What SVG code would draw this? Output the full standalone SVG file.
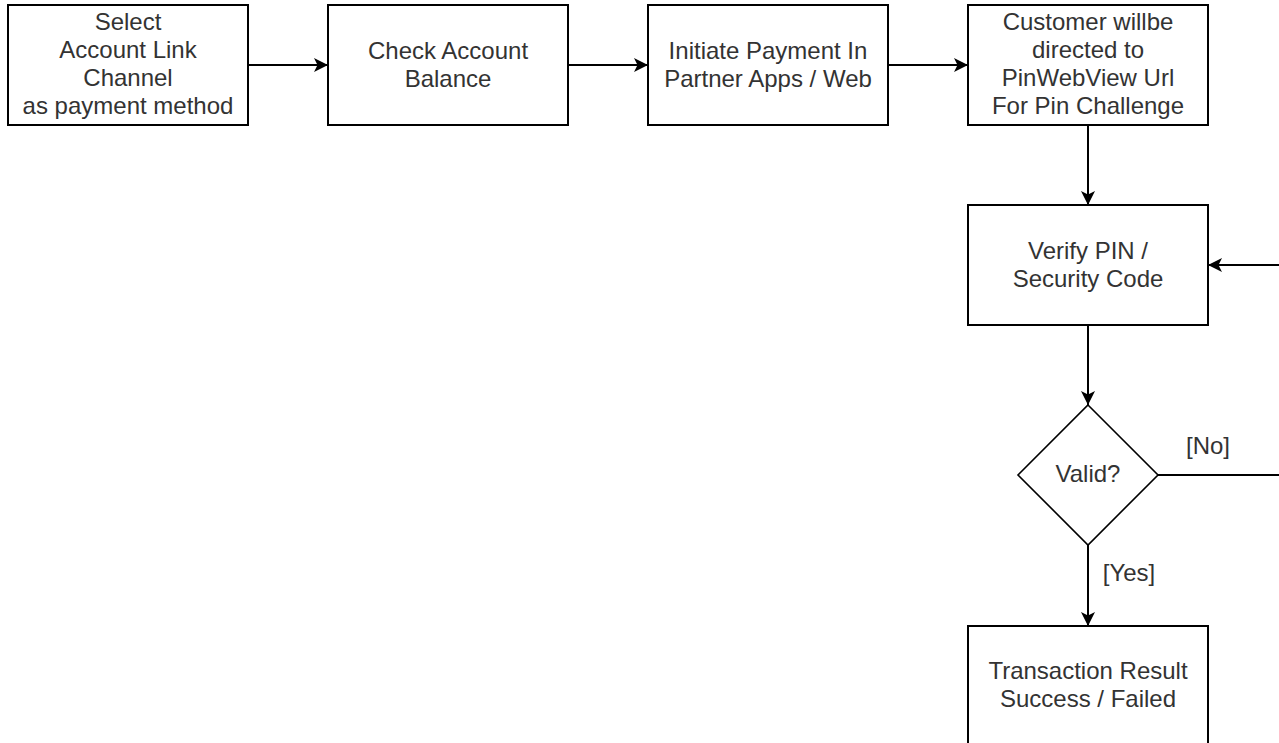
<svg xmlns="http://www.w3.org/2000/svg" width="1279" height="743" viewBox="0 0 1279 743">
<style>
.box{fill:#fff;stroke:#000;stroke-width:2}
.dia{fill:#fff;stroke:#000;stroke-width:1.6}
.t{font-family:"Liberation Sans",Arial,sans-serif;font-size:24px;fill:#333;text-anchor:middle}
.e{fill:none;stroke:#000;stroke-width:2}
</style>
<defs>
<marker id="arr" markerUnits="userSpaceOnUse" markerWidth="16" markerHeight="16" refX="14" refY="7" orient="auto">
<path d="M0,0 L14,7 L0,14 L3.5,7 Z" fill="#000"/>
</marker>
</defs>
<rect width="1279" height="743" fill="#fff"/>
<g id="edges">
<path class="e" d="M248,65 L328,65" marker-end="url(#arr)"/>
<path class="e" d="M568,65 L648,65" marker-end="url(#arr)"/>
<path class="e" d="M888,65 L968,65" marker-end="url(#arr)"/>
<path class="e" d="M1088,125 L1088,205" marker-end="url(#arr)"/>
<path class="e" d="M1088,325 L1088,405" marker-end="url(#arr)"/>
<path class="e" d="M1088,545 L1088,626" marker-end="url(#arr)"/>
<path class="e" d="M1158,475 L1300,475 L1300,265 L1208,265" marker-end="url(#arr)"/>
<text class="t" x="1208" y="454">[No]</text>
<text class="t" x="1129" y="581">[Yes]</text>
</g>
<g id="n1">
<rect class="box" x="8" y="5" width="240" height="120"/>
<text class="t" x="128" y="30">Select</text>
<text class="t" x="128" y="58">Account Link</text>
<text class="t" x="128" y="86">Channel</text>
<text class="t" x="128" y="114">as payment method</text>
</g>
<g id="n2">
<rect class="box" x="328" y="5" width="240" height="120"/>
<text class="t" x="448" y="59">Check Account</text>
<text class="t" x="448" y="87">Balance</text>
</g>
<g id="n3">
<rect class="box" x="648" y="5" width="240" height="120"/>
<text class="t" x="768" y="59">Initiate Payment In</text>
<text class="t" x="768" y="87">Partner Apps / Web</text>
</g>
<g id="n4">
<rect class="box" x="968" y="5" width="240" height="120"/>
<text class="t" x="1088" y="30">Customer willbe</text>
<text class="t" x="1088" y="58">directed to</text>
<text class="t" x="1088" y="86">PinWebView Url</text>
<text class="t" x="1088" y="114">For Pin Challenge</text>
</g>
<g id="n5">
<rect class="box" x="968" y="205" width="240" height="120"/>
<text class="t" x="1088" y="259">Verify PIN /</text>
<text class="t" x="1088" y="287">Security Code</text>
</g>
<g id="n6">
<polygon class="dia" points="1088,405 1158,475 1088,545 1018,475"/>
<text class="t" x="1088" y="482">Valid?</text>
</g>
<g id="n7">
<rect class="box" x="968" y="626" width="240" height="130"/>
<text class="t" x="1088" y="679">Transaction Result</text>
<text class="t" x="1088" y="707">Success / Failed</text>
</g>
</svg>
